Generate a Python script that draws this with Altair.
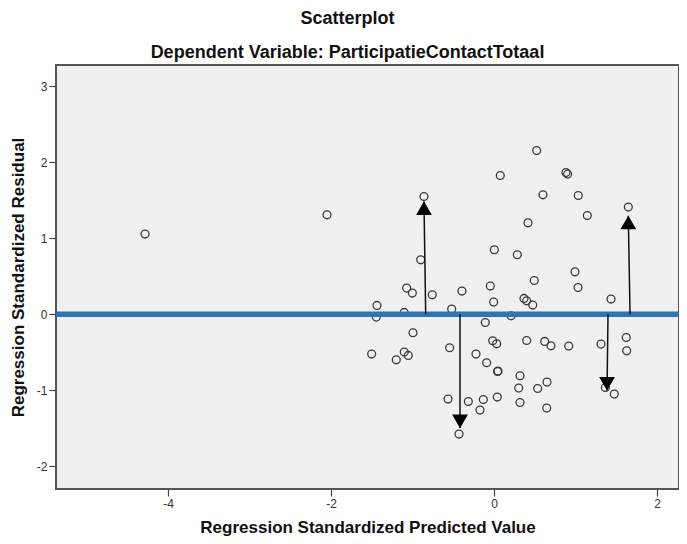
import altair as alt
import pandas as pd

# Regression Standardized Predicted Value / Residual pairs
pred = [-4.282, -2.049, 0.077, -0.859, 0.004, 0.286, -0.899, -1.071, -1.002, -0.757,
        -0.393, -0.045, -0.004, -1.436, -0.519, -1.101, -1.444, 0.209, 0.524, 0.883,
        0.904, 0.601, 1.034, 1.648, 1.145, 0.417, 0.994, 0.494, 1.031, 1.436,
        0.368, 0.401, 0.475, -0.107, -0.994, -0.016, 0.033, -1.501, -0.544, -1.101,
        -1.052, -1.199, -0.221, -0.090, 0.049, 0.044, 0.319, 0.303, 0.319, -0.564,
        -0.315, -0.131, 0.040, -0.172, -0.429, 0.401, 0.622, 0.699, 0.917, 1.313,
        1.623, 1.628, 0.536, 0.650, 0.647, 1.366, 1.476]
resid = [1.054, 1.307, 1.824, 1.548, 0.848, 0.782, 0.716, 0.344, 0.279, 0.256,
         0.305, 0.371, 0.160, 0.116, 0.068, 0.024, -0.037, -0.020, 2.152, 1.863,
         1.842, 1.570, 1.561, 1.409, 1.298, 1.202, 0.558, 0.444, 0.352, 0.200,
         0.208, 0.177, 0.121, -0.108, -0.243, -0.348, -0.388, -0.523, -0.440, -0.497,
         -0.541, -0.598, -0.523, -0.637, -0.746, -0.752, -0.808, -0.970, -1.159, -1.114,
         -1.146, -1.120, -1.088, -1.259, -1.574, -0.344, -0.357, -0.414, -0.418, -0.392,
         -0.305, -0.480, -0.975, -0.891, -1.233, -0.962, -1.049]

# Annotation arrows (start at the zero line, end at the tip)
arrow_x_start = [-0.838, 1.669, -0.417, 1.399]
arrow_x_tip = [-0.859, 1.648, -0.417, 1.387]
arrow_y_tip = [1.482, 1.294, -1.495, -1.001]
arrow_dir = [1, 1, -1, -1]
head_half = 0.088  # half head height in data units

x_ticks = [-4, -2, 0, 2]
y_ticks = [-2, -1, 0, 1, 2, 3]
x_dom = [-5.374, 2.270]
y_dom = [-2.296, 3.276]

pts = pd.DataFrame({"x": pred, "y": resid})
arr = pd.DataFrame({
    "x0": arrow_x_start,
    "x1": arrow_x_tip,
    "y0": [0.0] * 4,
    "y1": arrow_y_tip,
    "hy": [t - d * head_half for t, d in zip(arrow_y_tip, arrow_dir)],
    "shape": ["triangle-up" if d > 0 else "triangle-down" for d in arrow_dir],
})
zero = pd.DataFrame({"y": [0.0]})

xs = alt.Scale(domain=x_dom, nice=False, zero=False)
ys = alt.Scale(domain=y_dom, nice=False, zero=False)

points = alt.Chart(pts).mark_point(
    shape="circle", filled=False, size=62, stroke="#3a3a3a", strokeWidth=1.3, opacity=1
).encode(
    x=alt.X("x:Q", scale=xs, axis=alt.Axis(values=x_ticks, labelExpr="toString(datum.value)",
                                           title="Regression Standardized Predicted Value",
                                           titlePadding=10, labelPadding=2)),
    y=alt.Y("y:Q", scale=ys, axis=alt.Axis(values=y_ticks, labelExpr="toString(datum.value)",
                                           title="Regression Standardized Residual",
                                           titlePadding=9)),
)

line0 = alt.Chart(zero).mark_rule(color="#2F75B6", strokeWidth=5.5).encode(y=alt.Y("y:Q", scale=ys))

shafts = alt.Chart(arr).mark_rule(color="#111111", strokeWidth=1.5).encode(
    x=alt.X("x0:Q", scale=xs), x2="x1:Q", y=alt.Y("y0:Q", scale=ys), y2="y1:Q"
)
heads = alt.Chart(arr).mark_point(filled=True, size=250, color="black", opacity=1).encode(
    x=alt.X("x1:Q", scale=xs), y=alt.Y("hy:Q", scale=ys),
    shape=alt.Shape("shape:N", scale=None, legend=None),
)

chart = alt.layer(points, line0, shafts, heads).properties(
    width=623, height=424,
    background="white",
    autosize=alt.AutoSizeParams(type="none"),
    padding={"left": 48, "top": 57, "right": 0, "bottom": 47},
    title=alt.TitleParams(
        text="Scatterplot",
        subtitle="Dependent Variable: ParticipatieContactTotaal",
        anchor="middle", dx=-20, offset=3,
        font="Liberation Sans", fontSize=18, fontWeight="bold", color="#111",
        subtitleFont="Liberation Sans", subtitleFontSize=18, subtitleFontWeight="bold",
        subtitleColor="#111", subtitlePadding=16,
    ),
).configure_view(
    fill="#F0F0F0", stroke="#555555", strokeWidth=2
).configure_axis(
    grid=False, domain=False,
    tickColor="#444", tickSize=7, tickWidth=1.2,
    labelFont="Liberation Sans", labelFontSize=12, labelColor="#333", labelPadding=2,
    titleFont="Liberation Sans", titleFontSize=17, titleFontWeight="bold", titleColor="#111",
)

chart.save("out.html", embed_options={"renderer": "svg", "actions": False})
